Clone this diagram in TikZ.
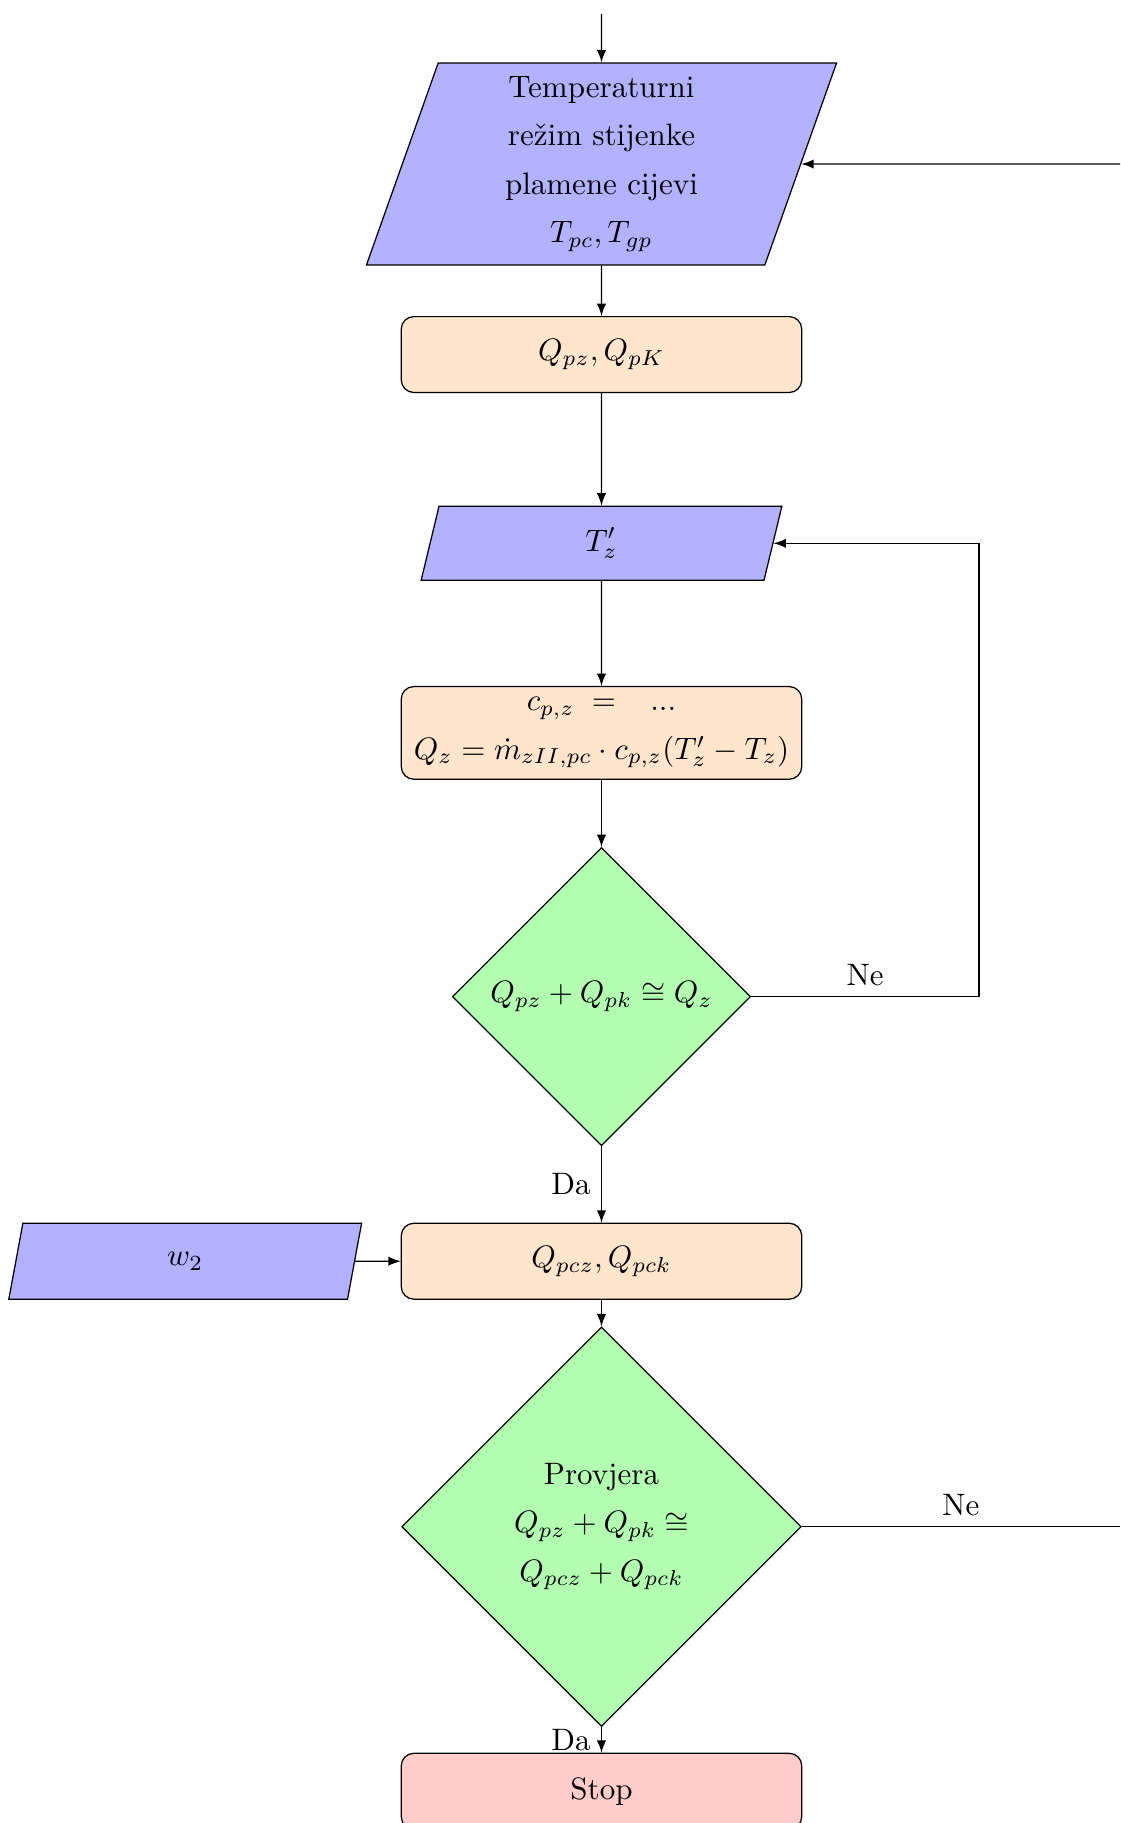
\documentclass[tikz,border=0pt]{standalone}
\usepackage{amsmath}
\usepackage{fontspec}
\usepackage{tikz}
\usetikzlibrary{shapes.geometric}
\linespread{1.3}

\tikzset{
  io/.style={trapezium, trapezium stretches body, trapezium left angle=70, trapezium right angle=110, draw=black, fill=blue!30, align=center, inner sep=0pt},
  process/.style={rectangle, rounded corners, draw=black, fill=orange!20, minimum width=4.54cm, minimum height=0.86cm, align=center},
  decision/.style={diamond, draw=black, fill=green!30, align=center, inner sep=0pt},
  stopbox/.style={rectangle, rounded corners, draw=black, fill=red!20, minimum width=4.54cm, minimum height=0.86cm}
}

\begin{document}
\begin{tikzpicture}
        \useasboundingbox (0,0) rectangle (12.70,-20.67);
        \coordinate (start) at (6.82,-0.16);
        \node[io, trapezium left angle=67.7, trapezium right angle=112.3, minimum width=5.33cm, minimum height=2.29cm] (temp) at (6.82,-1.86) {Temperaturni\\režim stijenke\\plamene cijevi\\$T_{pc},T_{gp}$};
        \node[process] (qp) at (6.82,-4.02) {$Q_{pz},Q_{pK}$};
        \node[io, trapezium left angle=60, trapezium right angle=120, minimum width=4.09cm, minimum height=0.84cm] (tz) at (6.82,-6.16) {$T_z'$};
        \node[process, minimum height=1.05cm] (qz) at (6.82,-8.31) {$c_{p,z}\;=\;\;\;...$\\$Q_z=\dot{m}_{zII,pc}\cdot c_{p,z}(T_z'-T_z)$};
        \node[decision, minimum width=3.38cm, minimum height=3.38cm] (dec1) at (6.82,-11.30) {$Q_{pz}+Q_{pk}\cong Q_z$};
        \node[process] (qpc) at (6.82,-14.30) {$Q_{pcz},Q_{pck}$};
        \node[io, trapezium left angle=52, trapezium right angle=128, minimum width=4.00cm, minimum height=0.86cm] (w) at (2.10,-14.30) {$w_2$};
        \node[decision, minimum width=4.53cm, minimum height=4.53cm] (dec2) at (6.82,-17.31) {Provjera\\$Q_{pz}+Q_{pk}\cong$\\$Q_{pcz}+Q_{pck}$};
        \node[stopbox] (stop) at (6.82,-20.31) {Stop};
        \coordinate (back) at (12.70,-1.86);
        \coordinate (loop) at (11.10,-11.30);
        \coordinate (out) at (12.70,-17.31);

        \draw [-latex] (start) -- (temp);
        \draw [-latex] (back) -- (temp);
        \draw [-latex] (temp) -- (qp);
        \draw [-latex] (qp) -- (tz);
        \draw [-latex] (tz) -- (qz);
        \draw [-latex] (qz) -- (dec1);
        \draw [-latex] (dec1.east) -- node[above] {Ne} (loop) |- (tz.east);
        \draw [-latex] (dec1) -- node[left] {Da} (qpc);
        \draw [-latex] (w) -- (qpc);
        \draw [-latex] (qpc) -- (dec2);
        \draw (dec2.east) -- node[above] {Ne} (out);
        \draw [-latex] (dec2) -- node[left] {Da} (stop);
        % \draw [-latex] (out) |- (back);
\end{tikzpicture}
\end{document}
